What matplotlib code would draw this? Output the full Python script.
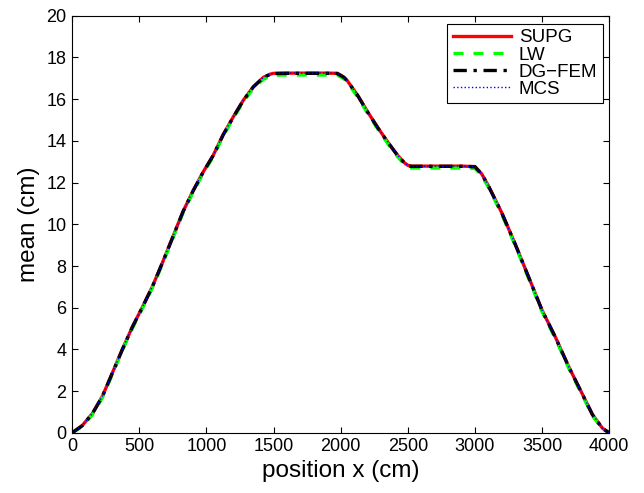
import matplotlib
matplotlib.use('Agg')
import matplotlib.pyplot as plt
import numpy as np

plt.rcParams['font.family'] = ['Liberation Sans', 'DejaVu Sans']

# positions (cm)
x = [0, 75, 150, 225, 300, 375, 450, 525, 600, 675, 750, 825, 900, 975, 1050,
     1125, 1200, 1275, 1350, 1425, 1475, 1500, 1600, 1700, 1800, 1900, 1975,
     2000, 2025, 2050, 2125, 2200, 2275, 2350, 2425, 2475, 2500, 2525, 2600,
     2700, 2800, 2900, 3000, 3050, 3100, 3200, 3300, 3400, 3500, 3600, 3700,
     3800, 3875, 3950, 4000]

supg = [0.0, 0.35, 0.92, 1.75, 2.88, 4.02, 5.10, 6.05, 7.05, 8.20, 9.40, 10.60,
        11.60, 12.50, 13.30, 14.30, 15.15, 15.95, 16.60, 17.05, 17.20, 17.24,
        17.25, 17.25, 17.25, 17.25, 17.24, 17.15, 17.05, 16.88, 16.20, 15.40,
        14.65, 13.95, 13.30, 12.95, 12.83, 12.79, 12.79, 12.79, 12.79, 12.79,
        12.77, 12.42, 11.85, 10.55, 9.05, 7.47, 5.88, 4.58, 3.15, 1.86, 0.88,
        0.22, 0.0]

lw = [0.0, 0.30, 0.86, 1.69, 2.82, 3.96, 5.03, 5.98, 6.99, 8.13, 9.33, 10.54,
      11.53, 12.43, 13.24, 14.23, 15.08, 15.88, 16.52, 16.96, 17.11, 17.15,
      17.16, 17.16, 17.16, 17.16, 17.15, 17.07, 16.97, 16.80, 16.12, 15.33,
      14.58, 13.88, 13.23, 12.88, 12.74, 12.70, 12.70, 12.70, 12.70, 12.70,
      12.68, 12.34, 11.78, 10.48, 8.98, 7.40, 5.81, 4.51, 3.08, 1.80, 0.82,
      0.18, 0.0]

dgfem = [0.0, 0.34, 0.91, 1.74, 2.87, 4.01, 5.09, 6.04, 7.04, 8.19, 9.39, 10.59,
         11.59, 12.49, 13.29, 14.29, 15.14, 15.94, 16.59, 17.04, 17.19, 17.23,
         17.24, 17.24, 17.24, 17.24, 17.23, 17.14, 17.04, 16.87, 16.19, 15.39,
         14.64, 13.94, 13.29, 12.94, 12.82, 12.78, 12.78, 12.78, 12.78, 12.78,
         12.76, 12.41, 11.84, 10.54, 9.04, 7.46, 5.87, 4.57, 3.14, 1.85, 0.87,
         0.21, 0.0]

mcs = [0.0, 0.35, 0.92, 1.75, 2.88, 4.02, 5.10, 6.05, 7.05, 8.20, 9.40, 10.60,
       11.60, 12.50, 13.30, 14.30, 15.15, 15.95, 16.60, 17.05, 17.20, 17.24,
       17.25, 17.25, 17.25, 17.25, 17.24, 17.15, 17.05, 16.88, 16.20, 15.40,
       14.65, 13.95, 13.30, 12.95, 12.83, 12.79, 12.79, 12.79, 12.79, 12.79,
       12.77, 12.42, 11.85, 10.55, 9.05, 7.47, 5.88, 4.58, 3.15, 1.86, 0.88,
       0.22, 0.0]

fig = plt.figure(figsize=(6.44, 4.93), dpi=100)
ax = fig.add_axes([0.112, 0.122, 0.834, 0.846])

ax.plot(x, supg, '-', color='red', lw=2.4, label='SUPG')
ax.plot(x, lw, '--', color='#00ff00', lw=2.4, dashes=(3, 3), label='LW')
ax.plot(x, dgfem, '-.', color='black', lw=2.4, dashes=(4, 2, 1, 2), label='DG\u2212FEM')
ax.plot(x, mcs, ':', color='blue', lw=1.0, label='MCS')

ax.set_xlim(0, 4000)
ax.set_ylim(0, 20)
ax.set_xticks(np.arange(0, 4001, 500))
ax.set_yticks(np.arange(0, 21, 2))
ax.tick_params(direction='in', top=True, right=True, length=4, labelsize=13, pad=4)
ax.set_xlabel('position x (cm)', fontsize=17.5, labelpad=3)
ax.set_ylabel('mean (cm)', fontsize=17.5, labelpad=5)

leg = ax.legend(loc='upper right', bbox_to_anchor=(0.988, 0.981), fontsize=13.5,
                handlelength=3.1, fancybox=False, framealpha=1,
                edgecolor='black', borderaxespad=0, labelspacing=0.0,
                handletextpad=0.4, borderpad=0.3)
leg.get_frame().set_linewidth(0.8)

fig.savefig('out.png', dpi=100)
